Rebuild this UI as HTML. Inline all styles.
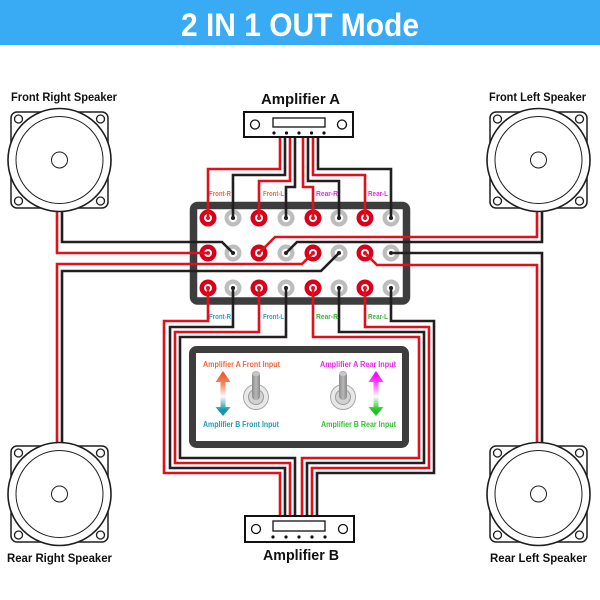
<!DOCTYPE html>
<html><head><meta charset="utf-8"><style>
html,body{margin:0;padding:0;background:#fff;}
svg{display:block;}
text{font-family:"Liberation Sans",Arial,sans-serif;font-weight:bold;}
</style></head><body>
<svg width="600" height="600" viewBox="0 0 600 600" xmlns="http://www.w3.org/2000/svg">
<defs>
<linearGradient id="gUpO" gradientUnits="userSpaceOnUse" x1="0" y1="374" x2="0" y2="397"><stop offset="0" stop-color="#ef5a2a"/><stop offset="0.45" stop-color="#f48a66"/><stop offset="1" stop-color="#ffffff"/></linearGradient>
<linearGradient id="gDnT" gradientUnits="userSpaceOnUse" x1="0" y1="396" x2="0" y2="410"><stop offset="0" stop-color="#ffffff"/><stop offset="1" stop-color="#1595ad"/></linearGradient>
<linearGradient id="gUpM" gradientUnits="userSpaceOnUse" x1="0" y1="374" x2="0" y2="397"><stop offset="0" stop-color="#ff00ff"/><stop offset="0.45" stop-color="#ff55ff"/><stop offset="1" stop-color="#ffffff"/></linearGradient>
<linearGradient id="gDnG" gradientUnits="userSpaceOnUse" x1="0" y1="396" x2="0" y2="410"><stop offset="0" stop-color="#ffffff"/><stop offset="1" stop-color="#1fc41f"/></linearGradient>
<linearGradient id="gLever" x1="0" y1="0" x2="1" y2="0"><stop offset="0" stop-color="#8a8a8a"/><stop offset="0.5" stop-color="#b8b8b8"/><stop offset="1" stop-color="#8a8a8a"/></linearGradient>
</defs>

<!-- header -->
<rect x="0" y="0" width="600" height="45" fill="#39abf5"/>
<text x="300" y="36" font-size="32" fill="#ffffff" text-anchor="middle" textLength="238" lengthAdjust="spacingAndGlyphs">2 IN 1 OUT Mode</text>

<!-- terminal block -->
<rect x="193.5" y="205.5" width="213" height="95.5" rx="4" fill="#ffffff" stroke="#3d3d3d" stroke-width="7.5"/>
<!-- switch box -->
<rect x="192.5" y="349.5" width="213" height="95" rx="4" fill="#ffffff" stroke="#3d3d3d" stroke-width="7"/>

<!-- terminals -->
<g>
<!-- row 1 -->
<circle cx="208" cy="218" r="8.5" fill="#d9001b"/><circle cx="208" cy="218" r="4" fill="#fff"/>
<circle cx="233" cy="218" r="8.5" fill="#bdbdbd"/><circle cx="233" cy="218" r="4.3" fill="#fff"/>
<circle cx="259" cy="218" r="8.5" fill="#d9001b"/><circle cx="259" cy="218" r="4" fill="#fff"/>
<circle cx="286" cy="218" r="8.5" fill="#bdbdbd"/><circle cx="286" cy="218" r="4.3" fill="#fff"/>
<circle cx="313" cy="218" r="8.5" fill="#d9001b"/><circle cx="313" cy="218" r="4" fill="#fff"/>
<circle cx="339" cy="218" r="8.5" fill="#bdbdbd"/><circle cx="339" cy="218" r="4.3" fill="#fff"/>
<circle cx="365" cy="218" r="8.5" fill="#d9001b"/><circle cx="365" cy="218" r="4" fill="#fff"/>
<circle cx="391" cy="218" r="8.5" fill="#bdbdbd"/><circle cx="391" cy="218" r="4.3" fill="#fff"/>
<!-- row 2 -->
<circle cx="208" cy="253" r="8.5" fill="#d9001b"/><circle cx="208" cy="253" r="4" fill="#fff"/>
<circle cx="233" cy="253" r="8.5" fill="#bdbdbd"/><circle cx="233" cy="253" r="4.3" fill="#fff"/>
<circle cx="259" cy="253" r="8.5" fill="#d9001b"/><circle cx="259" cy="253" r="4" fill="#fff"/>
<circle cx="286" cy="253" r="8.5" fill="#bdbdbd"/><circle cx="286" cy="253" r="4.3" fill="#fff"/>
<circle cx="313" cy="253" r="8.5" fill="#d9001b"/><circle cx="313" cy="253" r="4" fill="#fff"/>
<circle cx="339" cy="253" r="8.5" fill="#bdbdbd"/><circle cx="339" cy="253" r="4.3" fill="#fff"/>
<circle cx="365" cy="253" r="8.5" fill="#d9001b"/><circle cx="365" cy="253" r="4" fill="#fff"/>
<circle cx="391" cy="253" r="8.5" fill="#bdbdbd"/><circle cx="391" cy="253" r="4.3" fill="#fff"/>
<!-- row 3 -->
<circle cx="208" cy="288" r="8.5" fill="#d9001b"/><circle cx="208" cy="288" r="4" fill="#fff"/>
<circle cx="233" cy="288" r="8.5" fill="#bdbdbd"/><circle cx="233" cy="288" r="4.3" fill="#fff"/>
<circle cx="259" cy="288" r="8.5" fill="#d9001b"/><circle cx="259" cy="288" r="4" fill="#fff"/>
<circle cx="286" cy="288" r="8.5" fill="#bdbdbd"/><circle cx="286" cy="288" r="4.3" fill="#fff"/>
<circle cx="313" cy="288" r="8.5" fill="#d9001b"/><circle cx="313" cy="288" r="4" fill="#fff"/>
<circle cx="339" cy="288" r="8.5" fill="#bdbdbd"/><circle cx="339" cy="288" r="4.3" fill="#fff"/>
<circle cx="365" cy="288" r="8.5" fill="#d9001b"/><circle cx="365" cy="288" r="4" fill="#fff"/>
<circle cx="391" cy="288" r="8.5" fill="#bdbdbd"/><circle cx="391" cy="288" r="4.3" fill="#fff"/>
</g>

<!-- wires -->
<g fill="none" stroke-width="2.6" stroke-linejoin="miter">
<!-- amp A to row 1 -->
<path d="M280,136 V169 H208 V218" stroke="#e3101b"/>
<path d="M285,136 V175 H233 V218" stroke="#231f20"/>
<path d="M290,136 V181 H259 V218" stroke="#e3101b"/>
<path d="M295,136 V187 H286 V218" stroke="#231f20"/>
<path d="M303,136 V187 H313 V218" stroke="#e3101b"/>
<path d="M308,136 V181 H339 V218" stroke="#231f20"/>
<path d="M313,136 V175 H365 V218" stroke="#e3101b"/>
<path d="M318,136 V169 H391 V218" stroke="#231f20"/>
<!-- row 2 to speakers -->
<path d="M57,205 V253 H208" stroke="#e3101b"/>
<path d="M62,205 V242 H222 L233,253" stroke="#231f20"/>
<path d="M259,253 L275,237 H537 V205" stroke="#e3101b"/>
<path d="M286,253 L297,242 H542 V205" stroke="#231f20"/>
<path d="M313,253 L302,264 H57 V446" stroke="#e3101b"/>
<path d="M339,253 L321,271 H62 V446" stroke="#231f20"/>
<path d="M365,253 L377,265 H537 V446" stroke="#e3101b"/>
<path d="M391,253 H542 V446" stroke="#231f20"/>
<!-- row 3 to amp B -->
<path d="M208,288 V321 H164 V473 H280 V518" stroke="#e3101b"/>
<path d="M233,288 V327 H170 V468 H285 V518" stroke="#231f20"/>
<path d="M259,288 V332 H175 V463 H290 V518" stroke="#e3101b"/>
<path d="M286,288 V337 H180 V458 H295 V518" stroke="#231f20"/>
<path d="M313,288 V337 H419 V458 H302 V518" stroke="#e3101b"/>
<path d="M339,288 V332 H424 V463 H307 V518" stroke="#231f20"/>
<path d="M365,288 V327 H429 V468 H312 V518" stroke="#e3101b"/>
<path d="M391,288 V321 H434 V473 H317 V518" stroke="#231f20"/>
</g>
<!-- terminal centre dots -->
<g>
<circle cx="208" cy="218" r="2" fill="#e3101b"/><circle cx="233" cy="218" r="2" fill="#231f20"/><circle cx="259" cy="218" r="2" fill="#e3101b"/><circle cx="286" cy="218" r="2" fill="#231f20"/><circle cx="313" cy="218" r="2" fill="#e3101b"/><circle cx="339" cy="218" r="2" fill="#231f20"/><circle cx="365" cy="218" r="2" fill="#e3101b"/><circle cx="391" cy="218" r="2" fill="#231f20"/>
<circle cx="208" cy="253" r="2" fill="#e3101b"/><circle cx="233" cy="253" r="2" fill="#231f20"/><circle cx="259" cy="253" r="2" fill="#e3101b"/><circle cx="286" cy="253" r="2" fill="#231f20"/><circle cx="313" cy="253" r="2" fill="#e3101b"/><circle cx="339" cy="253" r="2" fill="#231f20"/><circle cx="365" cy="253" r="2" fill="#e3101b"/><circle cx="391" cy="253" r="2" fill="#231f20"/>
<circle cx="208" cy="288" r="2" fill="#e3101b"/><circle cx="233" cy="288" r="2" fill="#231f20"/><circle cx="259" cy="288" r="2" fill="#e3101b"/><circle cx="286" cy="288" r="2" fill="#231f20"/><circle cx="313" cy="288" r="2" fill="#e3101b"/><circle cx="339" cy="288" r="2" fill="#231f20"/><circle cx="365" cy="288" r="2" fill="#e3101b"/><circle cx="391" cy="288" r="2" fill="#231f20"/>
</g>

<!-- speakers -->
<g stroke="#1e1e1e" fill="#ffffff">
<g transform="translate(59.5,160)">
<rect x="-48.5" y="-48" width="97" height="96" rx="6" stroke-width="1.5"/>
<circle r="51.5" stroke-width="1.6"/><circle r="43.5" fill="none" stroke-width="1"/><circle r="8" fill="none" stroke-width="1"/>
<circle cx="-41" cy="-41" r="4" stroke-width="1.3"/><circle cx="41" cy="-41" r="4" stroke-width="1.3"/><circle cx="-41" cy="41" r="4" stroke-width="1.3"/><circle cx="41" cy="41" r="4" stroke-width="1.3"/>
</g>
<g transform="translate(538.5,160)">
<rect x="-48.5" y="-48" width="97" height="96" rx="6" stroke-width="1.5"/>
<circle r="51.5" stroke-width="1.6"/><circle r="43.5" fill="none" stroke-width="1"/><circle r="8" fill="none" stroke-width="1"/>
<circle cx="-41" cy="-41" r="4" stroke-width="1.3"/><circle cx="41" cy="-41" r="4" stroke-width="1.3"/><circle cx="-41" cy="41" r="4" stroke-width="1.3"/><circle cx="41" cy="41" r="4" stroke-width="1.3"/>
</g>
<g transform="translate(59.5,494)">
<rect x="-48.5" y="-48" width="97" height="96" rx="6" stroke-width="1.5"/>
<circle r="51.5" stroke-width="1.6"/><circle r="43.5" fill="none" stroke-width="1"/><circle r="8" fill="none" stroke-width="1"/>
<circle cx="-41" cy="-41" r="4" stroke-width="1.3"/><circle cx="41" cy="-41" r="4" stroke-width="1.3"/><circle cx="-41" cy="41" r="4" stroke-width="1.3"/><circle cx="41" cy="41" r="4" stroke-width="1.3"/>
</g>
<g transform="translate(538.5,494)">
<rect x="-48.5" y="-48" width="97" height="96" rx="6" stroke-width="1.5"/>
<circle r="51.5" stroke-width="1.6"/><circle r="43.5" fill="none" stroke-width="1"/><circle r="8" fill="none" stroke-width="1"/>
<circle cx="-41" cy="-41" r="4" stroke-width="1.3"/><circle cx="41" cy="-41" r="4" stroke-width="1.3"/><circle cx="-41" cy="41" r="4" stroke-width="1.3"/><circle cx="41" cy="41" r="4" stroke-width="1.3"/>
</g>
</g>

<!-- amplifiers -->
<g stroke="#111" fill="#fff">
<rect x="244" y="112" width="109" height="25" stroke-width="2"/>
<circle cx="255" cy="124.5" r="4.5" stroke-width="1.3"/><circle cx="342" cy="124.5" r="4.5" stroke-width="1.3"/>
<rect x="273" y="118" width="52" height="9" stroke-width="1.3"/>
<rect x="245" y="516" width="109" height="26" stroke-width="2"/>
<circle cx="256" cy="529" r="4.5" stroke-width="1.3"/><circle cx="343" cy="529" r="4.5" stroke-width="1.3"/>
<rect x="273" y="521" width="52" height="10" stroke-width="1.3"/>
</g>
<g fill="#111">
<circle cx="274" cy="133" r="1.6"/><circle cx="286.5" cy="133" r="1.6"/><circle cx="299" cy="133" r="1.6"/><circle cx="311.5" cy="133" r="1.6"/><circle cx="324" cy="133" r="1.6"/>
<circle cx="273" cy="537" r="1.6"/><circle cx="286" cy="537" r="1.6"/><circle cx="299" cy="537" r="1.6"/><circle cx="312" cy="537" r="1.6"/><circle cx="325" cy="537" r="1.6"/>
</g>

<!-- switch box content -->
<path d="M223,371 L230.5,382 L225.5,382 L225.5,396 L220.5,396 L220.5,382 L215.5,382 Z" fill="url(#gUpO)"/>
<path d="M220.5,396 L225.5,396 L225.5,407 L230.5,407 L223,416 L215.5,407 L220.5,407 Z" fill="url(#gDnT)"/>
<path d="M376,371 L383.5,382 L378.5,382 L378.5,396 L373.5,396 L373.5,382 L368.5,382 Z" fill="url(#gUpM)"/>
<path d="M373.5,396 L378.5,396 L378.5,407 L383.5,407 L376,416 L368.5,407 L373.5,407 Z" fill="url(#gDnG)"/>

<g>
<circle cx="256" cy="397" r="12.5" fill="#e8e8e8" stroke="#a8a8a8" stroke-width="1"/>
<circle cx="256" cy="397" r="7.5" fill="#d2d2d2" stroke="#9a9a9a" stroke-width="1"/>
<rect x="252" y="371" width="8" height="29" rx="4" fill="url(#gLever)"/>
<ellipse cx="256" cy="374" rx="3.6" ry="2" fill="#c8c8c8"/>
<circle cx="343" cy="397" r="12.5" fill="#e8e8e8" stroke="#a8a8a8" stroke-width="1"/>
<circle cx="343" cy="397" r="7.5" fill="#d2d2d2" stroke="#9a9a9a" stroke-width="1"/>
<rect x="339" y="371" width="8" height="29" rx="4" fill="url(#gLever)"/>
<ellipse cx="343" cy="374" rx="3.6" ry="2" fill="#c8c8c8"/>
</g>

<!-- labels -->
<text x="261" y="104" font-size="14.5" fill="#111" textLength="79" lengthAdjust="spacingAndGlyphs">Amplifier A</text>
<text x="263" y="560" font-size="14.5" fill="#111" textLength="76" lengthAdjust="spacingAndGlyphs">Amplifier B</text>
<text x="11" y="101" font-size="11.5" fill="#111" textLength="106" lengthAdjust="spacingAndGlyphs">Front Right Speaker</text>
<text x="489" y="101" font-size="11.5" fill="#111" textLength="97" lengthAdjust="spacingAndGlyphs">Front Left Speaker</text>
<text x="7" y="562" font-size="11.5" fill="#111" textLength="105" lengthAdjust="spacingAndGlyphs">Rear Right Speaker</text>
<text x="490" y="562" font-size="11.5" fill="#111" textLength="97" lengthAdjust="spacingAndGlyphs">Rear Left Speaker</text>

<g font-size="7.5">
<text x="209" y="196" fill="#f26a45" textLength="22" lengthAdjust="spacingAndGlyphs">Front-R</text>
<text x="263" y="196" fill="#f26a45" textLength="21" lengthAdjust="spacingAndGlyphs">Front-L</text>
<text x="316" y="196" fill="#e030e0" textLength="22" lengthAdjust="spacingAndGlyphs">Rear-R</text>
<text x="368" y="196" fill="#e030e0" textLength="20" lengthAdjust="spacingAndGlyphs">Rear-L</text>
<text x="209" y="319" fill="#2aa3c0" textLength="22" lengthAdjust="spacingAndGlyphs">Front-R</text>
<text x="263" y="319" fill="#2aa3c0" textLength="21" lengthAdjust="spacingAndGlyphs">Front-L</text>
<text x="316" y="319" fill="#3cb43c" textLength="22" lengthAdjust="spacingAndGlyphs">Rear-R</text>
<text x="368" y="319" fill="#3cb43c" textLength="20" lengthAdjust="spacingAndGlyphs">Rear-L</text>
</g>
<g font-size="8">
<text x="203" y="367" fill="#f0643a" textLength="77" lengthAdjust="spacingAndGlyphs">Amplifier A Front Input</text>
<text x="203" y="427" fill="#1e9ab5" textLength="76" lengthAdjust="spacingAndGlyphs">Amplifier B Front Input</text>
<text x="320" y="367" fill="#ee22ee" textLength="76" lengthAdjust="spacingAndGlyphs">Amplifier A Rear Input</text>
<text x="321" y="427" fill="#33c033" textLength="75" lengthAdjust="spacingAndGlyphs">Amplifier B Rear Input</text>
</g>
</svg>
</body></html>
